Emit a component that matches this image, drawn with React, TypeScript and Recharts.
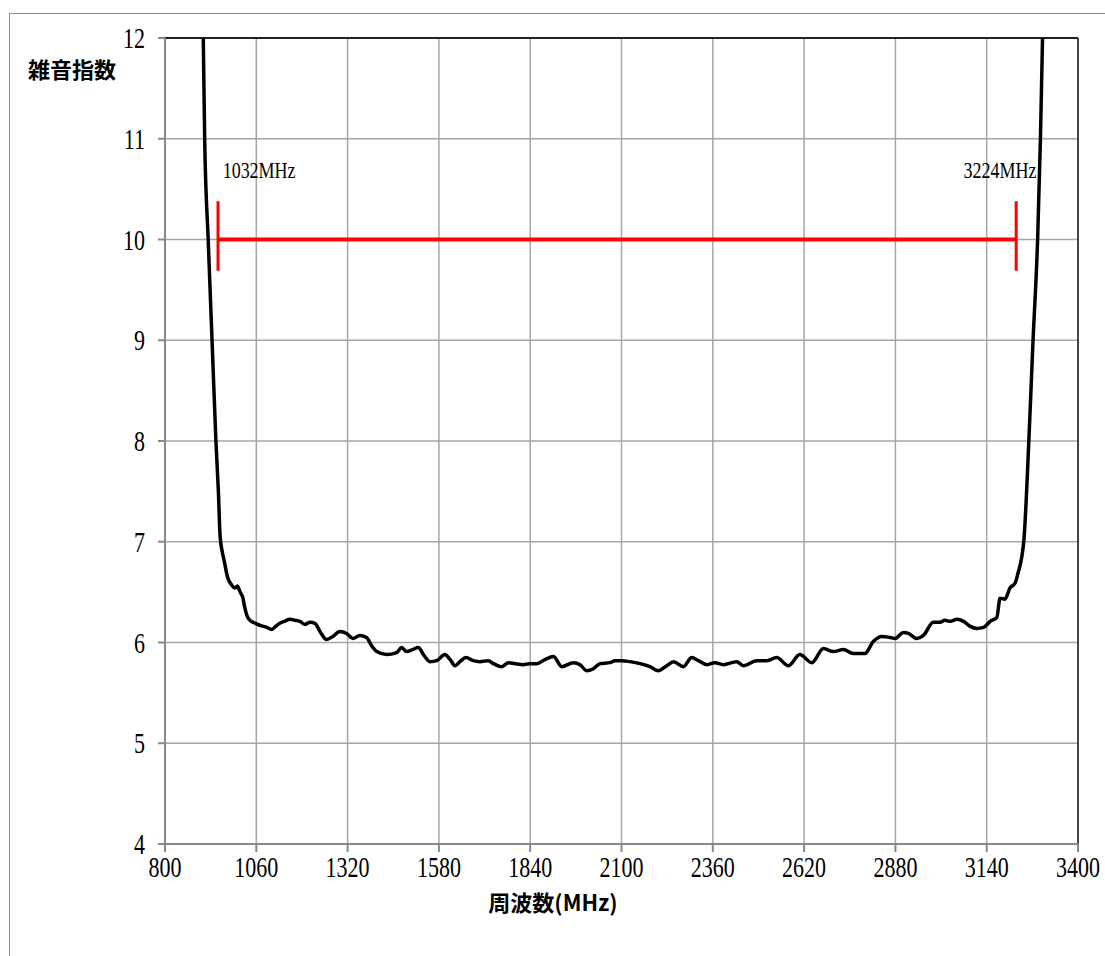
import React from "react";
import {
  CartesianGrid,
  Line,
  LineChart,
  ReferenceDot,
  ReferenceLine,
  XAxis,
  YAxis,
} from "recharts";

// frequency (MHz) and noise figure
const freq = [
  900, 909, 913, 923, 934, 945, 952, 957, 963, 968, 978, 990, 999, 1006, 1014,
  1022, 1027, 1033, 1042, 1051, 1071, 1090, 1104, 1115, 1127, 1140, 1156, 1170,
  1184, 1198, 1213, 1227, 1243, 1260, 1278, 1298, 1317, 1335, 1355, 1374, 1388,
  1403, 1431, 1460, 1474, 1488, 1505, 1521, 1538, 1555, 1574, 1597, 1612, 1626,
  1640, 1657, 1678, 1697, 1721, 1735, 1759, 1778, 1797, 1820, 1839, 1859, 1882,
  1906, 1930, 1963, 1982, 2001, 2020, 2039, 2067, 2082, 2101, 2124, 2153, 2181,
  2205, 2229, 2248, 2276, 2300, 2319, 2343, 2366, 2390, 2428, 2447, 2485, 2514,
  2542, 2575, 2608, 2642, 2675, 2703, 2732, 2760, 2793, 2817, 2841, 2865, 2879,
  2903, 2917, 2941, 2960, 2988, 3007, 3021, 3036, 3055, 3074, 3093, 3112, 3131,
  3150, 3169, 3178, 3192, 3206, 3221, 3230, 3240, 3246, 3260, 3272, 3285, 3293,
  3299, 3305,
];

const noiseFigure = [
  13.5, 12.0, 11.0, 10.0, 9.0, 8.0, 7.5, 7.05, 6.9, 6.82, 6.65, 6.57, 6.54, 6.56, 6.5,
  6.44, 6.35, 6.27, 6.22, 6.2, 6.17, 6.15, 6.13, 6.16, 6.19, 6.21, 6.23, 6.22,
  6.21, 6.18, 6.2, 6.19, 6.1, 6.03, 6.06, 6.11, 6.09, 6.04, 6.07, 6.05, 5.97,
  5.91, 5.88, 5.9, 5.95, 5.91, 5.93, 5.95, 5.87, 5.81, 5.82, 5.88, 5.83, 5.77,
  5.81, 5.85, 5.82, 5.81, 5.82, 5.79, 5.76, 5.8, 5.79, 5.78, 5.79, 5.79, 5.83,
  5.86, 5.76, 5.8, 5.78, 5.72, 5.74, 5.79, 5.8, 5.82, 5.82, 5.81, 5.79, 5.76,
  5.72, 5.77, 5.81, 5.76, 5.85, 5.82, 5.78, 5.8, 5.78, 5.81, 5.77, 5.82, 5.82,
  5.85, 5.77, 5.88, 5.8, 5.94, 5.91, 5.93, 5.89, 5.89, 6.01, 6.06, 6.05, 6.04,
  6.1, 6.09, 6.04, 6.07, 6.2, 6.2, 6.22, 6.21, 6.23, 6.21, 6.16, 6.14, 6.15,
  6.21, 6.25, 6.44, 6.43, 6.54, 6.59, 6.7, 6.85, 7.02, 8.0, 9.0, 10.0, 11.0,
  12.0, 13.5,
];

const xTicks = [800, 1060, 1320, 1580, 1840, 2100, 2360, 2620, 2880, 3140, 3400];
const yTicks = [4, 5, 6, 7, 8, 9, 10, 11, 12];

// band marker (red bar) and its labels
const bandEnds = [951, 3224];
const bandLevel = 10;
const bandCap = [9.69, 10.38];
const bandLabels = ["1032MHz", "3224MHz"];
const bandLabelX = [1068, 3178];
const bandLabelY = 10.69;

const data = freq.map((f, i) => ({ f, nf: noiseFigure[i] }));

const serif = "'Liberation Serif', 'DejaVu Serif', serif";
const gothic = "'Noto Sans CJK JP', 'Noto Sans', sans-serif";

// the original uses a tall, narrow mincho face: stretch a serif vertically
const XTick = (props: any) => {
  const { x, y, payload } = props;
  return (
    <text
      transform={`translate(${x},${y}) scale(1,1.3)`}
      dy="0.71em"
      textAnchor="middle"
      fontSize={22}
      fontFamily={serif}
      fill="#000"
    >
      {payload.value}
    </text>
  );
};

const YTick = (props: any) => {
  const { x, y, payload } = props;
  return (
    <text
      transform={`translate(${x},${y}) scale(1,1.3)`}
      dy="0.35em"
      textAnchor="end"
      fontSize={22}
      fontFamily={serif}
      fill="#000"
    >
      {payload.value}
    </text>
  );
};

const BandLabel = (props: any) => {
  const { viewBox, value } = props;
  const cx = viewBox.x + (viewBox.width || 0) / 2;
  const cy = viewBox.y + (viewBox.height || 0) / 2;
  return (
    <text
      transform={`translate(${cx},${cy}) scale(1,1.25)`}
      dy="0.35em"
      textAnchor="middle"
      fontSize={18}
      fontFamily={serif}
      fill="#000"
    >
      {value}
    </text>
  );
};

export default function App() {
  return (
    <div
      style={{
        position: "fixed",
        left: 0,
        top: 0,
        width: 1105,
        height: 956,
        overflow: "hidden",
        background: "#fff",
      }}
    >
      <div
        style={{
          position: "absolute",
          left: 9,
          top: 13,
          width: 1200,
          height: 1000,
          border: "1px solid #8c8c8c",
        }}
      />
      <div style={{ position: "absolute", left: 0, top: 0 }}>
        <LineChart
          width={1105}
          height={956}
          data={data}
          margin={{ top: 38, right: 27, bottom: 72, left: 105 }}
        >
          <CartesianGrid stroke="#a6a6a6" strokeWidth={1.5} />
          <XAxis
            dataKey="f"
            type="number"
            domain={[800, 3400]}
            ticks={xTicks}
            height={40}
            stroke="#888"
            strokeWidth={2}
            tickSize={8}
            tickMargin={5}
            tick={<XTick />}
          />
          <YAxis
            type="number"
            domain={[4, 12]}
            ticks={yTicks}
            allowDataOverflow
            width={60}
            stroke="#888"
            strokeWidth={2}
            tickSize={7}
            tickMargin={13}
            tick={<YTick />}
          />
          <ReferenceLine y={12} stroke="#222" strokeWidth={2} />
          <ReferenceLine x={3400} stroke="#222" strokeWidth={1.5} />
          <Line
            type="monotone"
            dataKey="nf"
            stroke="#000"
            strokeWidth={3.5}
            dot={false}
            isAnimationActive={false}
          />
          <ReferenceLine
            segment={[
              { x: bandEnds[0], y: bandLevel },
              { x: bandEnds[1], y: bandLevel },
            ]}
            stroke="#ff0000"
            strokeWidth={4}
          />
          {bandEnds.map((x) => (
            <ReferenceLine
              key={"cap" + x}
              segment={[
                { x, y: bandCap[0] },
                { x, y: bandCap[1] },
              ]}
              stroke="#ff0000"
              strokeWidth={3}
            />
          ))}
          {bandLabels.map((t, i) => (
            <ReferenceDot
              key={t}
              x={bandLabelX[i]}
              y={bandLabelY}
              r={0}
              fill="none"
              stroke="none"
              label={<BandLabel value={t} />}
            />
          ))}
        </LineChart>
      </div>
      <div
        style={{
          position: "absolute",
          left: 28,
          top: 53,
          fontFamily: gothic,
          fontWeight: "bold",
          fontSize: 22,
          lineHeight: "30px",
          whiteSpace: "nowrap",
        }}
      >
        雑音指数
      </div>
      <div
        style={{
          position: "absolute",
          left: 453,
          width: 200,
          top: 886,
          textAlign: "center",
          fontFamily: gothic,
          fontWeight: "bold",
          fontSize: 22,
          lineHeight: "30px",
          whiteSpace: "nowrap",
        }}
      >
        周波数(MHz)
      </div>
    </div>
  );
}
